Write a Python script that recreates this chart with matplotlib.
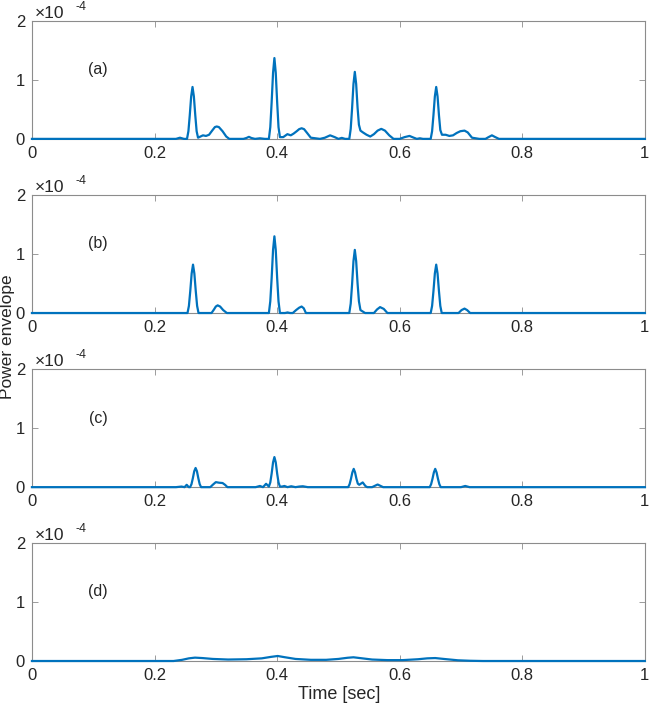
import matplotlib
matplotlib.use("Agg")
import matplotlib.pyplot as plt

plt.rcParams['font.family'] = ['Liberation Sans', 'DejaVu Sans']

# time axis samples (sec) and power envelope values (x1e-4)
t_a = [0, 0.235, 0.2415, 0.248, 0.253, 0.2553, 0.2575, 0.2598, 0.262, 0.2642, 0.2665,
       0.2687, 0.271, 0.275, 0.279, 0.284, 0.289, 0.294, 0.2985, 0.3015, 0.305,
       0.311, 0.317, 0.322, 0.345, 0.350, 0.354, 0.358, 0.364, 0.372, 0.380,
       0.3866, 0.3889, 0.3911, 0.3934, 0.3956, 0.3978, 0.4001, 0.4023, 0.4046, 0.410,
       0.4168, 0.4223, 0.427, 0.432, 0.436, 0.440, 0.444, 0.449, 0.455, 0.470,
       0.478, 0.4865, 0.494, 0.500, 0.5056, 0.511, 0.5178, 0.5201, 0.5223, 0.5246,
       0.5268, 0.529, 0.5313, 0.5335, 0.536, 0.540, 0.546, 0.552, 0.558, 0.564,
       0.570, 0.576, 0.583, 0.590, 0.600, 0.608, 0.616, 0.623, 0.628, 0.633,
       0.638, 0.643, 0.6506, 0.6529, 0.6551, 0.6574, 0.6596, 0.6618, 0.6641, 0.6663,
       0.669, 0.675, 0.681, 0.687, 0.693, 0.699, 0.7058, 0.711, 0.718, 0.730,
       0.740, 0.745, 0.7505, 0.756, 0.762, 0.780, 1.0]
p_a = [0, 0, 0.02, 0, 0, 0.13, 0.40, 0.72, 0.88, 0.72, 0.40,
       0.13, 0.02, 0.04, 0.06, 0.05, 0.07, 0.14, 0.20, 0.21, 0.20,
       0.13, 0.04, 0.0, 0.0, 0.015, 0.035, 0.015, 0.0, 0.01, 0.0,
       0.0, 0.20, 0.62, 1.12, 1.37, 1.12, 0.62, 0.20, 0.03, 0.03,
       0.08, 0.06, 0.09, 0.13, 0.165, 0.18, 0.165, 0.10, 0.02, 0.0,
       0.02, 0.06, 0.03, 0.0, 0.017, 0.0, 0.0, 0.17, 0.51, 0.93,
       1.136, 0.93, 0.53, 0.24, 0.14, 0.11, 0.07, 0.04, 0.08, 0.14,
       0.17, 0.14, 0.06, 0.0, 0.0, 0.03, 0.05, 0.02, 0.0, 0.01,
       0.0, 0.0, 0.0, 0.13, 0.40, 0.72, 0.88, 0.72, 0.40, 0.15,
       0.07, 0.07, 0.05, 0.06, 0.10, 0.13, 0.14, 0.11, 0.02, 0.0,
       0.0, 0.03, 0.06, 0.03, 0.0, 0.0, 0]

t_b = [0, 0.250, 0.2538, 0.2561, 0.2583, 0.2606, 0.2628, 0.265, 0.2673, 0.2695, 0.2718,
       0.285, 0.293, 0.297, 0.300, 0.303, 0.307, 0.312, 0.318, 0.330, 0.380,
       0.3866, 0.3889, 0.3911, 0.3934, 0.3956, 0.3978, 0.4001, 0.4023, 0.4046, 0.413,
       0.417, 0.421, 0.4256, 0.431, 0.436, 0.440, 0.4435, 0.447, 0.460, 0.5178,
       0.5201, 0.5223, 0.5246, 0.5268, 0.529, 0.5313, 0.5335, 0.536, 0.5436, 0.552,
       0.558, 0.563, 0.568, 0.574, 0.580, 0.600, 0.6506, 0.6529, 0.6551, 0.6574,
       0.6596, 0.6618, 0.6641, 0.6663, 0.6686, 0.690, 0.696, 0.701, 0.7058, 0.710,
       0.715, 0.730, 1.0]
p_b = [0, 0, 0.0, 0.12, 0.37, 0.67, 0.82, 0.67, 0.37, 0.12, 0.0,
       0.0, 0.0, 0.06, 0.11, 0.13, 0.11, 0.05, 0.0, 0.0, 0.0,
       0.0, 0.20, 0.59, 1.07, 1.30, 1.07, 0.59, 0.20, 0.0, 0.0,
       0.01, 0.0, 0.0, 0.05, 0.09, 0.11, 0.08, 0.0, 0.0, 0.0,
       0.16, 0.48, 0.88, 1.07, 0.88, 0.50, 0.20, 0.05, 0.0, 0.0,
       0.0, 0.06, 0.10, 0.07, 0.0, 0.0, 0.0, 0.12, 0.37, 0.67,
       0.82, 0.67, 0.37, 0.12, 0.0, 0.0, 0.0, 0.05, 0.075, 0.05,
       0.0, 0.0, 0]

t_c = [0, 0.235, 0.244, 0.249, 0.2525, 0.2558, 0.258, 0.2603, 0.2625, 0.2648, 0.267,
       0.2692, 0.2715, 0.2737, 0.276, 0.282, 0.291, 0.295, 0.300, 0.3055, 0.311,
       0.315, 0.319, 0.330, 0.365, 0.372, 0.377, 0.382, 0.3866, 0.3889, 0.3911,
       0.3934, 0.3956, 0.3978, 0.4001, 0.4023, 0.4046, 0.408, 0.412, 0.417, 0.423,
       0.430, 0.436, 0.442, 0.450, 0.510, 0.516, 0.5183, 0.5205, 0.5228, 0.525,
       0.5272, 0.5295, 0.5317, 0.534, 0.5397, 0.544, 0.547, 0.555, 0.564, 0.573,
       0.585, 0.645, 0.649, 0.6513, 0.6535, 0.6558, 0.658, 0.6602, 0.6625, 0.6647,
       0.667, 0.672, 0.700, 0.707, 0.714, 0.730, 1.0]
p_c = [0, 0, 0.01, 0.0, 0.04, 0.0, 0.0, 0.05, 0.15, 0.27, 0.325,
       0.27, 0.15, 0.05, 0.0, 0.0, 0.0, 0.04, 0.085, 0.075, 0.07,
       0.04, 0.0, 0.0, 0.0, 0.02, 0.0, 0.057, 0.01, 0.08, 0.23,
       0.42, 0.51, 0.42, 0.23, 0.08, 0.01, 0.01, 0.02, 0.0, 0.015,
       0.0, 0.01, 0.015, 0.0, 0.0, 0.0, 0.05, 0.14, 0.25, 0.31,
       0.25, 0.14, 0.06, 0.04, 0.08, 0.02, 0.0, 0.0, 0.045, 0.0,
       0.0, 0.0, 0.0, 0.05, 0.14, 0.25, 0.31, 0.25, 0.14, 0.05,
       0.0, 0.0, 0.0, 0.02, 0.0, 0.0, 0]

t_d = [0, 0.200, 0.231, 0.245, 0.256, 0.266, 0.278, 0.295, 0.320, 0.350, 0.375,
       0.390, 0.401, 0.412, 0.430, 0.455, 0.480, 0.500, 0.515, 0.5246, 0.535,
       0.555, 0.580, 0.605, 0.630, 0.645, 0.658, 0.672, 0.695, 0.715, 0.736, 1.0]
p_d = [0, 0, 0.0, 0.02, 0.045, 0.057, 0.05, 0.035, 0.025, 0.03, 0.045,
       0.07, 0.085, 0.065, 0.035, 0.02, 0.02, 0.035, 0.055, 0.063, 0.05,
       0.025, 0.015, 0.015, 0.03, 0.045, 0.05, 0.035, 0.012, 0.004, 0.0, 0]

panel_labels = ['(a)', '(b)', '(c)', '(d)']
x_ticks = [0, 0.2, 0.4, 0.6, 0.8, 1]
x_tick_labels = ['0', '0.2', '0.4', '0.6', '0.8', '1']
y_ticks = [0, 1, 2]

series = [(t_a, p_a), (t_b, p_b), (t_c, p_c), (t_d, p_d)]

fig = plt.figure(figsize=(6.52, 7.05), dpi=100)

line_color = '#0072BD'
axis_color = '#8c8c8c'
text_color = '#262626'

left, width, height = 0.049, 0.940, 0.1674
bottoms = [0.803, 0.556, 0.309, 0.0624]

for i, (t, p) in enumerate(series):
    ax = fig.add_axes([left, bottoms[i], width, height])
    ax.plot(t, p, color=line_color, linewidth=1.6, clip_on=False, zorder=5,
            solid_joinstyle='round')
    ax.set_xlim(0, 1)
    ax.set_ylim(0, 2)
    ax.set_xticks(x_ticks)
    ax.set_xticklabels(x_tick_labels)
    ax.set_yticks(y_ticks)
    ax.tick_params(direction='in', length=4, width=0.6, color=axis_color,
                   labelcolor=text_color, labelsize=12, top=True, right=True)
    ax.tick_params(axis='x', pad=5)
    ax.tick_params(axis='y', pad=5)
    for sp in ax.spines.values():
        sp.set_color(axis_color)
        sp.set_linewidth(0.8)
    ax.text(0.108, 1.17, panel_labels[i], fontsize=11.5, color=text_color,
            ha='center', va='center')
    # MATLAB-style exponent label above the axes
    ax.text(0.004, 1.0, '\u00d710', transform=ax.transAxes, fontsize=12.5,
            color=text_color, ha='left', va='bottom')
    ax.text(0.071, 1.065, '-4', transform=ax.transAxes, fontsize=9,
            color=text_color, ha='left', va='bottom')

fig.text(0.0, 0.523, 'Power envelope', rotation=90, fontsize=12.5,
         color=text_color, ha='left', va='center')
fig.text(0.52, 0.003, 'Time [sec]', fontsize=13, color=text_color,
         ha='center', va='bottom')

fig.savefig('out.png', dpi=100)
